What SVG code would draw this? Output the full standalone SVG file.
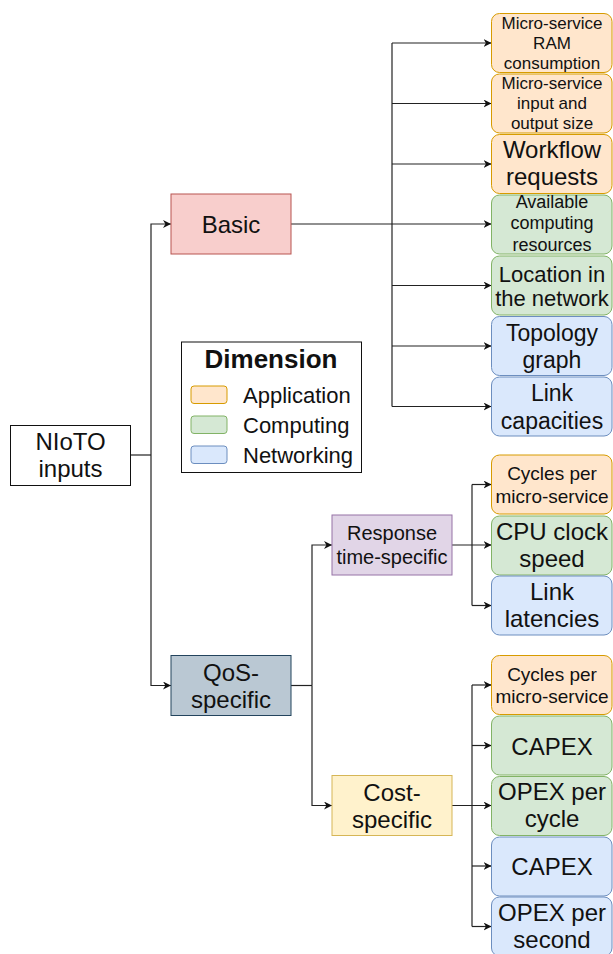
<svg xmlns="http://www.w3.org/2000/svg" width="613" height="954" viewBox="0 0 613 954">
  <defs>
    <marker id="arrow" viewBox="0 0 10 10" refX="10" refY="5" markerWidth="8" markerHeight="8" markerUnits="userSpaceOnUse" orient="auto">
      <path d="M0,0 L10,5 L0,10 L3,5 z" fill="#111"/>
    </marker>
    <style>
      text { font-family: "Liberation Sans", Arial, sans-serif; fill: #111; text-anchor: middle; }
      .edge { fill: none; stroke: #222; stroke-width: 1.2; }
      .arr { marker-end: url(#arrow); }
      .app { fill: #ffe6cc; stroke: #d79b00; stroke-width: 1; }
      .cmp { fill: #d5e8d4; stroke: #82b366; stroke-width: 1; }
      .net { fill: #dae8fc; stroke: #6c8ebf; stroke-width: 1; }
      .f17 { font-size: 17px; }
      .f18 { font-size: 18px; }
      .f19 { font-size: 19px; }
      .f20 { font-size: 20px; }
      .f22 { font-size: 22px; }
      .f23 { font-size: 23px; }
      .f24 { font-size: 24px; }
    </style>
  </defs>
  <rect width="613" height="954" fill="#ffffff"/>

  <!-- connectors -->
  <g id="connectors">
    <!-- root to categories -->
    <path class="edge" d="M130,455 H151"/>
    <path class="edge arr" d="M151,455 V224 H171"/>
    <path class="edge arr" d="M151,455 V685.5 H171"/>
    <!-- basic fan-out -->
    <path class="edge arr" d="M291,224 H491.5"/>
    <path class="edge" d="M392,43 V406.5"/>
    <path class="edge arr" d="M392,43 H491.5"/>
    <path class="edge arr" d="M392,103.5 H491.5"/>
    <path class="edge arr" d="M392,164 H491.5"/>
    <path class="edge arr" d="M392,285.5 H491.5"/>
    <path class="edge arr" d="M392,346 H491.5"/>
    <path class="edge arr" d="M392,406.5 H491.5"/>
    <!-- QoS split -->
    <path class="edge" d="M291,685.5 H312"/>
    <path class="edge arr" d="M312,685.5 V545 H332"/>
    <path class="edge arr" d="M312,685.5 V805.5 H332"/>
    <!-- response time fan-out -->
    <path class="edge arr" d="M452,545 H491.5"/>
    <path class="edge" d="M472,484.5 V605.5"/>
    <path class="edge arr" d="M472,484.5 H491.5"/>
    <path class="edge arr" d="M472,605.5 H491.5"/>
    <!-- cost fan-out -->
    <path class="edge arr" d="M452,805.5 H491.5"/>
    <path class="edge" d="M472,685 V926.5"/>
    <path class="edge arr" d="M472,685 H491.5"/>
    <path class="edge arr" d="M472,745.5 H491.5"/>
    <path class="edge arr" d="M472,866 H491.5"/>
    <path class="edge arr" d="M472,926.5 H491.5"/>
  </g>

  <!-- root -->
  <g id="nioto-inputs">
    <rect x="10.5" y="425.5" width="120" height="60" fill="#ffffff" stroke="#111" stroke-width="1"/>
    <text class="f24" x="70.5" y="449.5">NIoTO</text>
    <text class="f24" x="70.5" y="476.5">inputs</text>
  </g>

  <!-- categories -->
  <g id="basic">
    <rect x="171" y="194" width="120" height="60" fill="#f8cecc" stroke="#b85450" stroke-width="1"/>
    <text class="f24" x="231" y="232.5">Basic</text>
  </g>
  <g id="qos-specific">
    <rect x="171" y="655.5" width="120" height="60" fill="#bac8d3" stroke="#23445d" stroke-width="1"/>
    <text class="f24" x="231" y="681">QoS-</text>
    <text class="f24" x="231" y="707.5">specific</text>
  </g>
  <g id="response-time">
    <rect x="332" y="515" width="120" height="60" fill="#e1d5e7" stroke="#9673a6" stroke-width="1"/>
    <text class="f20" x="392" y="540">Response</text>
    <text class="f20" x="392" y="563.5">time-specific</text>
  </g>
  <g id="cost-specific">
    <rect x="332" y="775.5" width="120" height="60" fill="#fff2cc" stroke="#d6b656" stroke-width="1"/>
    <text class="f24" x="392" y="800.5">Cost-</text>
    <text class="f24" x="392" y="827.5">specific</text>
  </g>

  <!-- legend -->
  <g id="legend">
    <rect x="181.5" y="342" width="180" height="130.5" fill="#ffffff" stroke="#111" stroke-width="1"/>
    <text x="271" y="368" style="font-size:26px;font-weight:bold">Dimension</text>
    <rect class="app" x="191" y="386" width="36" height="17.5" rx="3"/>
    <rect class="cmp" x="191" y="416" width="36" height="17.5" rx="3"/>
    <rect class="net" x="191" y="446" width="36" height="17.5" rx="3"/>
    <text class="f22" x="243" y="402.5" style="text-anchor:start">Application</text>
    <text class="f22" x="243" y="432.5" style="text-anchor:start">Computing</text>
    <text class="f22" x="243" y="462.5" style="text-anchor:start">Networking</text>
  </g>

  <!-- basic inputs -->
  <g id="ms-ram">
    <rect class="app" x="491.5" y="13.5" width="120.5" height="59" rx="8"/>
    <text class="f17" x="552" y="29">Micro-service</text>
    <text class="f17" x="552" y="49">RAM</text>
    <text class="f17" x="552" y="68.5">consumption</text>
  </g>
  <g id="ms-io-size">
    <rect class="app" x="491.5" y="74" width="120.5" height="59" rx="8"/>
    <text class="f17" x="552" y="89">Micro-service</text>
    <text class="f17" x="552" y="109">input and</text>
    <text class="f17" x="552" y="128.5">output size</text>
  </g>
  <g id="workflow-requests">
    <rect class="app" x="491.5" y="134.5" width="120.5" height="59" rx="8"/>
    <text class="f24" x="552" y="158">Workflow</text>
    <text class="f24" x="552" y="185">requests</text>
  </g>
  <g id="available-resources">
    <rect class="cmp" x="491.5" y="195" width="120.5" height="59" rx="8"/>
    <text class="f18" x="552" y="207.5">Available</text>
    <text class="f18" x="552" y="229">computing</text>
    <text class="f18" x="552" y="250.5">resources</text>
  </g>
  <g id="location">
    <rect class="cmp" x="491.5" y="256" width="120.5" height="59" rx="8"/>
    <text class="f22" x="552" y="281.5">Location in</text>
    <text class="f22" x="552" y="305.5">the network</text>
  </g>
  <g id="topology-graph">
    <rect class="net" x="491.5" y="316.5" width="120.5" height="59" rx="8"/>
    <text class="f23" x="552" y="340.5">Topology</text>
    <text class="f23" x="552" y="368">graph</text>
  </g>
  <g id="link-capacities">
    <rect class="net" x="491.5" y="377" width="120.5" height="59" rx="8"/>
    <text class="f23" x="552" y="401">Link</text>
    <text class="f23" x="552" y="428.5">capacities</text>
  </g>

  <!-- response time inputs -->
  <g id="rt-cycles">
    <rect class="app" x="491.5" y="455" width="120.5" height="59" rx="8"/>
    <text class="f19" x="552" y="480">Cycles per</text>
    <text class="f19" x="552" y="502.5">micro-service</text>
  </g>
  <g id="cpu-clock">
    <rect class="cmp" x="491.5" y="516" width="120.5" height="59" rx="8"/>
    <text class="f24" x="552" y="539.5">CPU clock</text>
    <text class="f24" x="552" y="566.5">speed</text>
  </g>
  <g id="link-latencies">
    <rect class="net" x="491.5" y="576" width="120.5" height="59" rx="8"/>
    <text class="f24" x="552" y="599.5">Link</text>
    <text class="f24" x="552" y="626.5">latencies</text>
  </g>

  <!-- cost inputs -->
  <g id="cost-cycles">
    <rect class="app" x="491.5" y="655.5" width="120.5" height="59" rx="8"/>
    <text class="f19" x="552" y="680.5">Cycles per</text>
    <text class="f19" x="552" y="703">micro-service</text>
  </g>
  <g id="computing-capex">
    <rect class="cmp" x="491.5" y="716" width="120.5" height="59" rx="8"/>
    <text class="f24" x="552" y="755">CAPEX</text>
  </g>
  <g id="opex-cycle">
    <rect class="cmp" x="491.5" y="776.5" width="120.5" height="59" rx="8"/>
    <text class="f24" x="552" y="800">OPEX per</text>
    <text class="f24" x="552" y="827">cycle</text>
  </g>
  <g id="networking-capex">
    <rect class="net" x="491.5" y="837" width="120.5" height="59" rx="8"/>
    <text class="f24" x="552" y="875">CAPEX</text>
  </g>
  <g id="opex-second">
    <rect class="net" x="491.5" y="897" width="120.5" height="59" rx="8"/>
    <text class="f24" x="552" y="920.5">OPEX per</text>
    <text class="f24" x="552" y="947.5">second</text>
  </g>
</svg>
